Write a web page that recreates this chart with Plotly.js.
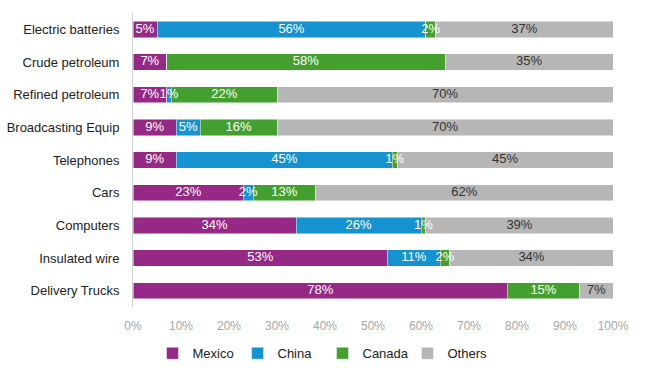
<!DOCTYPE html>
<html>
<head>
<meta charset="utf-8">
<script src="https://cdn.plot.ly/plotly-3.0.1.min.js"></script>
<style>html,body{margin:0;padding:0;background:#fff;}#chart{width:645px;height:375px;}</style>
</head>
<body>
<div id="chart"></div>
<script>
const categories = ["Electric batteries","Crude petroleum","Refined petroleum","Broadcasting Equip","Telephones","Cars","Computers","Insulated wire","Delivery Trucks"];
const mexico = [5, 7, 7, 9, 9, 23, 34, 53, 78];
const china  = [56, 0, 1, 5, 45, 2, 26, 11, 0];
const canada = [2, 58, 22, 16, 1, 13, 1, 2, 15];
const others = [37, 35, 70, 70, 45, 62, 39, 34, 7];
const seriesNames = ["Mexico","China","Canada","Others"];
const tickVals = [0,10,20,30,40,50,60,70,80,90,100];
const tickLabels = ["0%","10%","20%","30%","40%","50%","60%","70%","80%","90%","100%"];

const colors = ["#952985","#1593D0","#43A02E","#B6B6B6"];
const textColors = ["#ffffff","#ffffff","#ffffff","#333333"];
const all = [mexico, china, canada, others];
const FONT = "Liberation Sans, Arial, sans-serif";

const barTraces = all.map((vals, i) => ({
  type: "bar",
  orientation: "h",
  name: seriesNames[i],
  y: categories,
  x: vals,
  marker: {color: colors[i], line: {color: "rgba(255,255,255,0.6)", width: 0.8}},
  hoverinfo: "none"
}));

// label traces drawn on top of all bars (centred in each segment)
const base = categories.map(() => 0);
const labelTraces = all.map((vals, i) => {
  const mids = vals.map((v, j) => base[j] + v / 2);
  vals.forEach((v, j) => { base[j] += v; });
  return {
    type: "scatter",
    mode: "text",
    showlegend: false,
    y: categories,
    x: mids,
    text: vals.map(v => v > 0 ? v + "%" : ""),
    textposition: "middle center",
    textfont: {family: FONT, size: 13, color: textColors[i]},
    cliponaxis: false,
    hoverinfo: "none"
  };
});

const layout = {
  width: 645, height: 375,
  margin: {l: 133, r: 32, t: 13, b: 68},
  barmode: "stack",
  bargap: 0.5,
  paper_bgcolor: "#fff",
  plot_bgcolor: "#fff",
  font: {family: FONT, size: 13, color: "#222"},
  xaxis: {
    range: [0, 100],
    tickvals: tickVals,
    ticktext: tickLabels,
    showgrid: false,
    zeroline: false,
    showline: false,
    ticks: "",
    ticklabelstandoff: 10,
    tickfont: {size: 12, color: "#a6a6a6"},
    fixedrange: true
  },
  yaxis: {
    autorange: "reversed",
    showline: true,
    linecolor: "#d0d0d0",
    linewidth: 1,
    ticks: "",
    ticklabelstandoff: 10,
    tickfont: {size: 13, color: "#222"},
    showgrid: false,
    fixedrange: true
  },
  showlegend: true,
  legend: {
    orientation: "h",
    xref: "container", yref: "container",
    x: 0.5, xanchor: "center",
    y: 0.058, yanchor: "middle",
    font: {size: 13, color: "#222"},
    traceorder: "normal",
    itemwidth: 30,
    entrywidth: 40
  }
};

Plotly.newPlot("chart", barTraces.concat(labelTraces), layout, {displayModeBar: false, staticPlot: true});
</script>
</body>
</html>
